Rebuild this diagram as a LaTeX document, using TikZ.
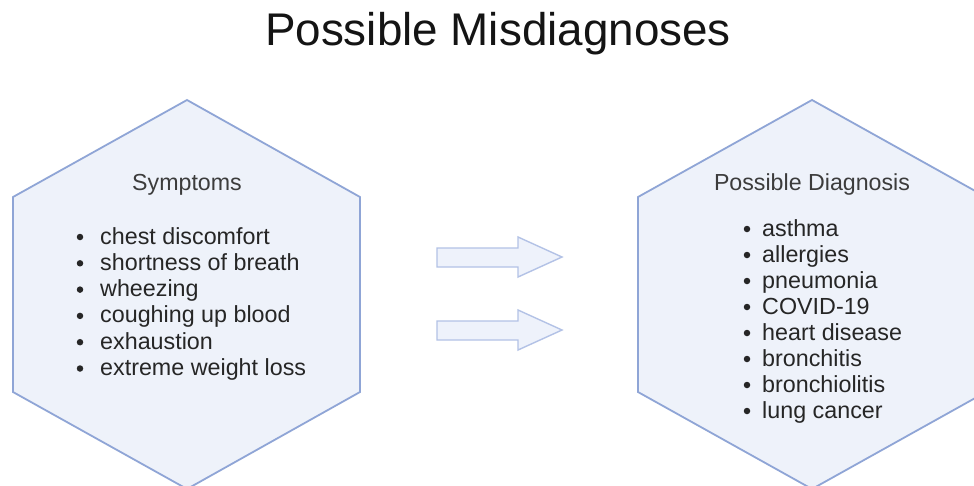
\documentclass[tikz,border=0pt]{standalone}
\usepackage{fontspec}
\setmainfont{Liberation Sans}
\definecolor{hexline}{HTML}{8FA5D6}
\definecolor{hexfill}{HTML}{EEF2FA}
\definecolor{arrline}{HTML}{B3C2E6}
\definecolor{arrfill}{HTML}{EEF2FB}
\definecolor{txt}{HTML}{262626}
\tikzset{
  hexshape/.style={draw=hexline, fill=hexfill, line width=1.8pt, line join=miter},
  blockarrow/.style={draw=arrline, fill=arrfill, line width=1.4pt, line join=miter},
  item/.style={anchor=base west, inner sep=0pt, text=txt, font=\fontsize{23.3}{26}\selectfont},
  head/.style={anchor=base, inner sep=0pt, text=txt!90, font=\fontsize{23.2}{26}\selectfont},
  dot/.style={circle, fill=txt, inner sep=0pt, minimum size=6.5pt},
}
\begin{document}
\begin{tikzpicture}[x=1pt, y=-1pt]
\useasboundingbox (0,0) rectangle (974,485);
\clip (0,0) rectangle (974,485);
\fill[white] (0,0) rectangle (974,485);
% title
\node[anchor=base, inner sep=0pt, text=black!92, font=\fontsize{45.8}{50}\selectfont] (title) at (498,45) {Possible Misdiagnoses};
% hexagons
\draw[hexshape] (187,100) -- (360,197) -- (360,392) -- (187,489) -- (13,392) -- (13,197) -- cycle;
\draw[hexshape] (812,100) -- (986,197) -- (986,392) -- (812,489) -- (638,392) -- (638,197) -- cycle;
% arrows
\draw[blockarrow] (437,248) -- (518,248) -- (518,237) -- (562,257) -- (518,277) -- (518,267) -- (437,267) -- cycle;
\draw[blockarrow] (437,321) -- (518,321) -- (518,310) -- (562,330) -- (518,350) -- (518,340) -- (437,340) -- cycle;
% left text
\node[head] (lh) at (187,190) {Symptoms};
\foreach \t [count=\i] in {chest discomfort, shortness of breath, wheezing, coughing up blood, exhaustion, extreme weight loss}{
  \node[item] (l\i) at (100,{244+26.3*(\i-1)}) {\t};
  \node[dot] (ld\i) at (80,{244+26.3*(\i-1)-7}) {};
}
% right text
\node[head] (rh) at (812,190) {Possible Diagnosis};
\foreach \t [count=\i] in {asthma, allergies, pneumonia, COVID-19, heart disease, bronchitis, bronchiolitis, lung cancer}{
  \node[item] (r\i) at (762,{236+26*(\i-1)}) {\t};
  \node[dot] (rd\i) at (747,{236+26*(\i-1)-7}) {};
}
\end{tikzpicture}
\end{document}
